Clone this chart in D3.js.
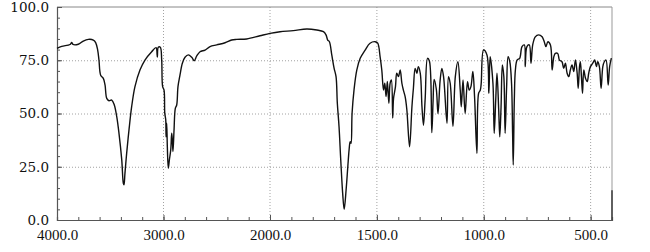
<!DOCTYPE html>
<html>
<head>
<meta charset="utf-8">
<script src="https://cdn.jsdelivr.net/npm/d3@7"></script>
<style>
  html, body { margin: 0; padding: 0; background: #fff; }
  svg { display: block; }
</style>
</head>
<body>
<svg id="chart" width="650" height="252"></svg>
<script>
// Wavenumber (cm-1) and transmittance (%)
const wavenumbers = [
  4000, 3956, 3878, 3862, 3850, 3800, 3753, 3706, 3659, 3637, 3618, 3606, 3590, 3565, 3549,
  3533, 3512, 3486, 3462, 3439, 3418, 3392, 3377, 3371, 3362, 3346, 3324, 3299, 3268, 3221,
  3174, 3111, 3070, 3058, 3049, 3030, 3017, 3008, 2995, 2988, 2979, 2976, 2970, 2964, 2955,
  2945, 2932, 2923, 2917, 2911, 2901, 2889, 2876, 2864, 2845, 2823, 2798, 2767, 2735, 2711,
  2688, 2657, 2610, 2563, 2500, 2422, 2360, 2313, 2219, 2094, 2000,
  1953, 1891, 1828, 1781, 1750, 1738, 1730, 1722, 1711, 1700, 1691, 1685, 1677, 1669, 1660,
  1653, 1644, 1636, 1630, 1625, 1621, 1616, 1607, 1594, 1578, 1555, 1532, 1508, 1496, 1485,
  1477, 1469, 1463, 1457, 1451, 1444, 1438, 1432, 1426, 1422, 1413, 1407, 1399, 1391, 1383,
  1376, 1368, 1360, 1347, 1336, 1329, 1321, 1313, 1306, 1297, 1289, 1282, 1274, 1263, 1254,
  1243, 1237, 1232, 1222, 1214, 1204, 1196, 1188, 1172, 1165, 1157, 1144, 1133, 1121, 1110,
  1105, 1097, 1087, 1076, 1068, 1060, 1051, 1043, 1032, 1024, 1016, 1012, 1001, 985, 976,
  970, 957, 951, 944, 938, 930, 925, 919, 913, 906, 900, 893, 886, 878, 870,
  865, 862, 857, 852, 844, 832, 821, 810, 806, 798, 787, 779, 771, 759, 743,
  727, 717, 709, 700, 688, 680, 672, 665, 654, 646, 634, 626, 618, 610, 602,
  595, 587, 579, 571, 563, 558, 552, 548, 543, 538, 532, 524, 516, 509, 501,
  490, 481, 473, 467, 459, 451, 443, 436, 428, 418, 411, 403
];
const transmittance = [
  80.6, 81.5, 82.4, 83.3, 82.4, 82.5, 84.0, 84.8, 84.5, 83.3, 79.8, 75.1, 68.0, 66.5, 63.4,
  57.1, 56.0, 56.3, 54.0, 48.5, 40.7, 28.2, 17.2, 16.5, 21.9, 31.3, 42.3, 53.2, 62.6, 70.4,
  75.1, 79.0, 80.9, 76.5, 81.1, 81.1, 75.1, 62.6, 61.0, 50.2, 47.0, 39.1, 45.4, 34.4, 24.3,
  28.2, 32.9, 40.7, 37.6, 32.1, 42.3, 52.4, 54.0, 62.6, 68.1, 73.6, 76.4, 77.5, 76.4, 74.8,
  77.0, 79.0, 79.8, 81.4, 82.2, 83.2, 84.5, 84.8, 85.0, 86.5, 87.6,
  88.4, 88.9, 89.7, 89.2, 88.4, 86.9, 84.5, 83.7, 77.5, 71.2, 67.3, 54.8, 43.8, 28.2, 12.5,
  5.0, 14.1, 25.0, 32.9, 36.8, 36.0, 50.1, 61.0, 70.4, 75.9, 79.8, 83.0, 83.7, 83.0, 76.7,
  70.4, 61.0, 64.2, 57.9, 65.0, 54.8, 64.2, 65.7, 47.9, 57.1, 62.6, 68.9, 67.3, 70.4, 64.2,
  61.0, 58.0, 52.0, 34.4, 53.2, 62.0, 71.2, 68.9, 72.0, 68.9, 53.2, 44.5, 57.0, 75.9, 74.5,
  41.0, 56.0, 66.0, 61.5, 50.0, 65.7, 71.2, 67.3, 45.4, 67.3, 64.2, 44.0, 67.3, 74.3, 61.0,
  53.2, 65.7, 50.0, 64.9, 61.0, 62.6, 69.7, 57.9, 31.3, 59.5, 61.0, 64.0, 79.8, 77.5, 59.5,
  76.7, 64.2, 40.7, 56.3, 68.9, 51.6, 39.1, 53.2, 72.8, 67.3, 40.7, 62.6, 76.7, 74.3, 64.2,
  40.7, 25.8, 56.3, 70.4, 75.1, 75.9, 81.4, 82.2, 72.0, 81.4, 82.2, 73.6, 82.2, 86.0, 86.9,
  86.0, 83.7, 81.4, 83.7, 82.2, 70.4, 76.7, 78.2, 78.2, 75.1, 74.3, 71.2, 73.6, 68.9, 67.3,
  70.4, 72.8, 69.7, 75.1, 68.9, 61.8, 72.0, 74.3, 67.3, 59.5, 70.4, 66.5, 65.0, 68.9, 72.0,
  73.6, 75.1, 72.0, 74.3, 72.0, 61.8, 72.0, 74.3, 75.1, 63.4, 72.0, 76.0
];
const xTickValues = [4000, 3000, 2000, 1500, 1000, 500];
const xTickLabels = ["4000.0", "3000.0", "2000.0", "1500.0", "1000.0", "500.0"];
const yTickValues = [0, 25, 50, 75, 100];
const yTickLabels = ["0.0", "25.0", "50.0", "75.0", "100.0"];
const xGridValues = [3000, 2000, 1500, 1000, 500];
const yGridValues = [25, 50, 75];

const svg = d3.select("#chart");
const padL = 57, padR = 612, padT = 7, padB = 220;

// Piecewise scale: 4000-2000 compressed, 2000-400 expanded
const x = d3.scaleLinear().domain([4000, 2000, 400]).range([padL, 270, padR]);
const y = d3.scaleLinear().domain([0, 100]).range([padB, padT]);

const grid = svg.append("g").attr("stroke", "#8a8a8a").attr("stroke-width", 0.8)
  .attr("stroke-dasharray", "1,2");
grid.selectAll("line.h").data(yGridValues).join("line").attr("class", "h")
  .attr("x1", padL).attr("x2", padR)
  .attr("y1", d => y(d) + 0.5).attr("y2", d => y(d) + 0.5);
grid.selectAll("line.v").data(xGridValues).join("line").attr("class", "v")
  .attr("x1", d => x(d)).attr("x2", d => x(d))
  .attr("y1", padT).attr("y2", padB);

// frame top/right (gray)
svg.append("line").attr("x1", padL).attr("x2", padR).attr("y1", padT).attr("y2", padT)
  .attr("stroke", "#888").attr("stroke-width", 1);
svg.append("line").attr("x1", padR).attr("x2", padR).attr("y1", padT).attr("y2", padB)
  .attr("stroke", "#999").attr("stroke-width", 1);

// minor ticks
const xMinor = d3.range(4000, 2000, -200).concat(d3.range(2000, 399, -100));
const yMinor = d3.range(0, 101, 5);

const xAxis = d3.axisBottom(x).tickValues(xMinor).tickSize(-3).tickFormat("");
const gx = svg.append("g").attr("transform", `translate(0,${padB})`).call(xAxis);
gx.selectAll("path,line").attr("stroke", "#555").attr("stroke-width", 1);
gx.select("path").attr("stroke-width", 1.2);

const gxMajor = svg.append("g").attr("transform", `translate(0,${padB})`)
  .call(d3.axisBottom(x).tickValues(xTickValues).tickSize(-5)
    .tickFormat((d, i) => xTickLabels[i]).tickPadding(9));
gxMajor.select("path").remove();
gxMajor.selectAll("line").attr("stroke", "#555");
gxMajor.selectAll("text")
  .style("font-family", "'Liberation Serif', serif").style("font-size", "15px")
  .attr("fill", "#111");

const yAxis = d3.axisLeft(y).tickValues(yMinor).tickSize(-3).tickFormat("");
const gy = svg.append("g").attr("transform", `translate(${padL},0)`).call(yAxis);
gy.selectAll("path,line").attr("stroke", "#555").attr("stroke-width", 1);
gy.select("path").attr("stroke-width", 1.2);

const gyMajor = svg.append("g").attr("transform", `translate(${padL},0)`)
  .call(d3.axisLeft(y).tickValues(yTickValues).tickSize(5)
    .tickFormat((d, i) => yTickLabels[i]).tickPadding(3));
gyMajor.select("path").remove();
gyMajor.selectAll("line").attr("stroke", "#555").attr("x2", 5);
gyMajor.selectAll("text")
  .style("font-family", "'DejaVu Serif', serif").style("font-size", "13.5px")
  .attr("fill", "#111");

// spectrum
const pts = wavenumbers.map((w, i) => [w, transmittance[i]]);
const line = d3.line().x(d => x(d[0])).y(d => y(d[1])).curve(d3.curveCatmullRom.alpha(0.5));
svg.append("path").datum(pts).attr("d", line)
  .attr("fill", "none").attr("stroke", "#111").attr("stroke-width", 1.4)
  .attr("stroke-linejoin", "round");

// dark segment on right border near the bottom
svg.append("line").attr("x1", padR).attr("x2", padR)
  .attr("y1", y(14)).attr("y2", padB)
  .attr("stroke", "#444").attr("stroke-width", 1.6);
</script>
</body>
</html>
